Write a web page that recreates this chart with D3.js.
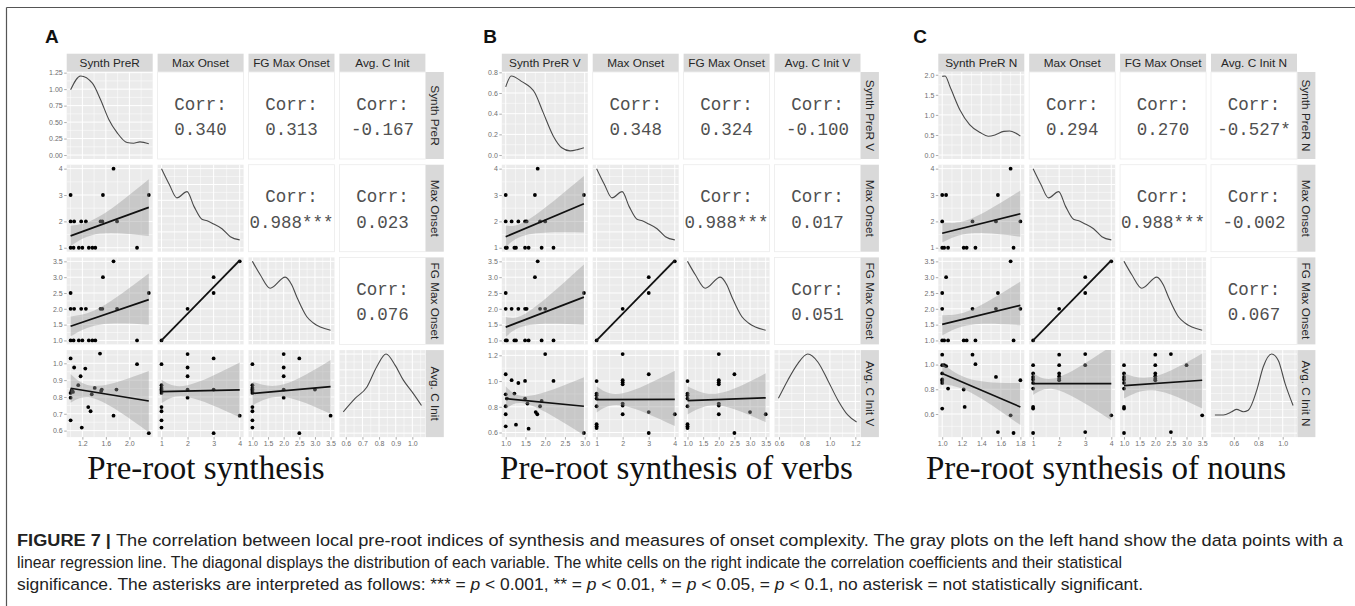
<!DOCTYPE html>
<html>
<head>
<meta charset="utf-8">
<script src="https://cdn.jsdelivr.net/npm/d3@7/dist/d3.min.js"></script>
<style>
  body { margin: 0; background: #fff; }
  svg { display: block; }
</style>
</head>
<body>
<svg id="contenedor"></svg>
<script>
// ---------- datos de los tres paneles ----------
const etiquetasPanel = ["A", "B", "C"];
const titulosPanel = ["Pre-root synthesis", "Pre-root synthesis of verbs", "Pre-root synthesis of nouns"];

const variablesA = ["Synth PreR", "Max Onset", "FG Max Onset", "Avg. C Init"];
const variablesB = ["Synth PreR V", "Max Onset", "FG Max Onset", "Avg. C Init V"];
const variablesC = ["Synth PreR N", "Max Onset", "FG Max Onset", "Avg. C Init N"];

// rango de los datos de cada variable
const rangosA = [[1.0, 2.33], [1, 4], [1, 3.5], [0.585, 1.055]];
const rangosB = [[1.0, 2.98], [1, 4], [1, 3.5], [0.595, 1.21]];
const rangosC = [[1.0, 1.8], [1, 4], [1, 3.5], [0.445, 1.085]];

// marcas de los ejes
const marcasA = [[1.2, 1.6, 2.0], [1, 2, 3, 4], [1, 1.5, 2, 2.5, 3, 3.5], [0.6, 0.7, 0.8, 0.9, 1.0]];
const marcasB = [[1, 1.5, 2, 2.5, 3], [1, 2, 3, 4], [1, 1.5, 2, 2.5, 3, 3.5], [0.6, 0.8, 1.0, 1.2]];
const marcasC = [[1, 1.2, 1.4, 1.6, 1.8], [1, 2, 3, 4], [1, 1.5, 2, 2.5, 3, 3.5], [0.6, 0.8, 1.0]];
const formatos = [".1f", "d", ".1f", ".1f"];
const marcasDensA = [0, 0.25, 0.5, 0.75, 1.0, 1.25];
const marcasDensB = [0, 0.2, 0.4, 0.6, 0.8];
const marcasDensC = [0, 0.5, 1.0, 1.5, 2.0];

// correlaciones: (1,2) (1,3) (1,4) (2,3) (2,4) (3,4)
const corrA = ["0.340", "0.313", "-0.167", "0.988***", "0.023", "0.076"];
const corrB = ["0.348", "0.324", "-0.100", "0.988***", "0.017", "0.051"];
const corrC = ["0.294", "0.270", "-0.527*", "0.988***", "-0.002", "0.067"];

// densidades [x, densidad]
const densSynthA = [[1.0, 0.99], [1.17, 1.2], [1.37, 1.09], [1.51, 0.84], [1.65, 0.54], [1.79, 0.34], [1.96, 0.19], [2.07, 0.18], [2.18, 0.2], [2.33, 0.17]];
const densSynthB = [[1.0, 0.66], [1.14, 0.765], [1.41, 0.71], [1.74, 0.6], [1.95, 0.41], [2.21, 0.18], [2.42, 0.07], [2.63, 0.04], [2.84, 0.055], [2.98, 0.07]];
const densSynthC = [[1.0, 1.96], [1.03, 1.97], [1.08, 1.7], [1.18, 1.13], [1.28, 0.76], [1.39, 0.56], [1.47, 0.47], [1.54, 0.5], [1.63, 0.59], [1.69, 0.6], [1.75, 0.55], [1.8, 0.47]];
const densMaxOnset = [[1, 1.0], [1.3, 0.8], [1.59, 0.63], [1.98, 0.71], [2.25, 0.52], [2.55, 0.36], [2.75, 0.34], [2.94, 0.31], [3.32, 0.24], [3.64, 0.14], [4, 0.1]];
const densFGMaxOnset = [[1, 1.0], [1.25, 0.83], [1.57, 0.66], [2.05, 0.8], [2.26, 0.7], [2.42, 0.55], [2.74, 0.3], [2.95, 0.22], [3.17, 0.17], [3.5, 0.13]];
const densAvgA = [[0.585, 0.27], [0.656, 0.44], [0.726, 0.58], [0.786, 0.84], [0.842, 1.0], [0.896, 0.86], [0.946, 0.67], [1.006, 0.5], [1.055, 0.35]];
const densAvgB = [[0.595, 0.44], [0.669, 0.67], [0.748, 0.88], [0.826, 1.0], [0.905, 0.9], [0.983, 0.67], [1.062, 0.42], [1.14, 0.23], [1.21, 0.14]];
const densAvgC = [[0.445, 0.23], [0.514, 0.23], [0.582, 0.27], [0.623, 0.3], [0.677, 0.27], [0.718, 0.29], [0.787, 0.54], [0.841, 0.84], [0.91, 1.0], [0.964, 0.92], [1.019, 0.63], [1.085, 0.35]];

// puntos [x, y] de cada celda
const puntosOnset = [[1, 1], [2, 2], [3, 2.5], [3, 3], [4, 3.5]];
const puntosA21 = [[1.0, 1], [1.05, 1], [1.14, 1], [1.2, 1], [1.31, 1], [1.37, 1], [1.42, 1], [2.13, 1], [1.0, 2], [1.06, 2], [1.18, 2], [1.26, 2], [1.51, 2], [1.54, 2], [1.79, 2], [1.0, 3], [1.55, 3], [2.33, 3], [1.73, 4]];
const puntosA31 = [[1.0, 1], [1.05, 1], [1.14, 1], [1.2, 1], [1.31, 1], [1.37, 1], [1.42, 1], [2.13, 1], [1.0, 2], [1.06, 2], [1.18, 2], [1.26, 2], [1.51, 2], [1.54, 2], [1.79, 2], [1.0, 2.5], [2.33, 2.5], [1.55, 3], [1.73, 3.5]];
const puntosA41 = [[1.0, 1.029], [1.06, 0.975], [1.25, 0.969], [1.5, 1.058], [1.17, 0.923], [1.13, 0.87], [1.0, 0.824], [1.02, 0.84], [1.04, 0.83], [1.0, 0.796], [1.36, 0.816], [1.41, 0.854], [1.53, 0.844], [1.52, 0.836], [1.78, 0.844], [1.3, 0.74], [1.34, 0.715], [1.0, 0.661], [1.19, 0.618], [1.73, 0.689], [2.13, 0.995], [2.33, 0.585]];
const puntosA42 = [[1, 0.995], [1, 0.87], [1, 0.854], [1, 0.844], [1, 0.836], [1, 0.824], [1, 0.74], [1, 0.715], [1, 0.661], [1, 0.618], [2, 1.055], [2, 0.975], [2, 0.923], [2, 0.844], [2, 0.796], [3, 1.029], [3, 0.844], [3, 0.585], [4, 0.689]];
const puntosA43 = [[1, 0.995], [1, 0.87], [1, 0.854], [1, 0.844], [1, 0.836], [1, 0.824], [1, 0.74], [1, 0.715], [1, 0.661], [1, 0.618], [2, 1.055], [2, 0.975], [2, 0.923], [2, 0.844], [2, 0.796], [2.5, 1.029], [2.5, 0.585], [3, 0.844], [3.5, 0.689]];
const puntosB21 = [[1.0, 1], [1.03, 1], [1.22, 1], [1.26, 1], [1.49, 1], [1.58, 1], [1.91, 1], [2.21, 1], [1.0, 2], [1.15, 2], [1.32, 2], [1.49, 2], [1.53, 2], [1.87, 2], [2.0, 2], [1.0, 3], [1.74, 3], [2.98, 3], [1.81, 4]];
const puntosB31 = [[1.0, 1], [1.03, 1], [1.22, 1], [1.26, 1], [1.49, 1], [1.58, 1], [1.91, 1], [2.21, 1], [1.0, 2], [1.15, 2], [1.32, 2], [1.49, 2], [1.53, 2], [1.87, 2], [2.0, 2], [1.0, 2.5], [2.98, 2.5], [1.74, 3], [1.81, 3.5]];
const puntosB41 = [[1.0, 1.053], [1.15, 1.007], [1.32, 0.985], [1.49, 1.001], [1.0, 0.897], [1.03, 0.864], [1.22, 0.903], [1.49, 0.864], [1.55, 0.825], [1.76, 0.759], [1.8, 0.742], [1.87, 0.804], [1.91, 0.845], [2.0, 1.21], [2.21, 1.001], [1.0, 0.804], [1.0, 0.742], [1.0, 0.648], [1.26, 0.661], [1.58, 0.63], [2.98, 0.596]];
const puntosB42 = [[1, 1.0], [1, 0.903], [1, 0.89], [1, 0.864], [1, 0.804], [1, 0.665], [1, 0.648], [1, 0.635], [2, 1.21], [2, 1.007], [2, 0.99], [2, 0.975], [2, 0.825], [2, 0.81], [2, 0.742], [3, 1.053], [3, 0.759], [3, 0.596], [4, 0.742]];
const puntosB43 = [[1, 1.0], [1, 0.903], [1, 0.89], [1, 0.864], [1, 0.804], [1, 0.665], [1, 0.648], [1, 0.635], [2, 1.21], [2, 1.007], [2, 0.99], [2, 0.975], [2, 0.825], [2, 0.81], [2, 0.742], [2.5, 1.053], [2.5, 0.596], [3, 0.759], [3.5, 0.742]];
const puntosC21 = [[1.0, 1], [1.02, 1], [1.06, 1], [1.22, 1], [1.25, 1], [1.34, 1], [1.73, 1], [1.0, 2], [1.31, 2], [1.55, 2], [1.8, 2], [1.0, 3], [1.04, 3], [1.57, 3], [1.7, 4]];
const puntosC31 = [[1.0, 1], [1.02, 1], [1.06, 1], [1.22, 1], [1.25, 1], [1.34, 1], [1.73, 1], [1.0, 2], [1.31, 2], [1.55, 2], [1.8, 2], [1.0, 2.5], [1.57, 2.5], [1.04, 3], [1.7, 3.5]];
const puntosC41 = [[1.0, 1.08], [1.0, 0.995], [1.02, 0.995], [1.04, 0.987], [1.0, 0.928], [1.0, 0.879], [1.0, 0.868], [1.0, 0.851], [1.06, 0.806], [1.22, 0.798], [1.31, 1.08], [1.34, 1.003], [1.23, 0.657], [1.0, 0.644], [1.55, 0.9], [1.57, 0.454], [1.7, 0.589], [1.73, 0.446], [1.8, 0.873]];
const puntosC42 = [[1, 0.995], [1, 0.928], [1, 0.9], [1, 0.879], [1, 0.851], [1, 0.806], [1, 0.657], [1, 0.644], [1, 0.446], [2, 1.08], [2, 0.995], [2, 0.928], [2, 0.905], [2, 0.885], [2, 0.873], [3, 1.085], [3, 0.995], [3, 0.454], [4, 0.589]];
const puntosC43 = [[1, 0.995], [1, 0.928], [1, 0.9], [1, 0.879], [1, 0.851], [1, 0.806], [1, 0.657], [1, 0.644], [1, 0.446], [2, 1.08], [2, 0.995], [2, 0.928], [2, 0.905], [2, 0.885], [2, 0.873], [2.5, 1.085], [2.5, 0.454], [3, 0.995], [3.5, 0.589]];

// recta de regresion: [x, ajuste, limite inferior, limite superior]
const ajusteOnset = [[1, 1.0, 0.95, 1.05], [2.5, 2.27, 2.24, 2.3], [4, 3.53, 3.47, 3.59]];
const ajusteA21 = [[1.0, 1.45, 1.07, 1.83], [1.5, 1.86, 1.54, 2.2], [2.33, 2.53, 1.45, 3.6]];
const ajusteA31 = [[1.0, 1.45, 1.13, 1.76], [1.5, 1.77, 1.5, 2.04], [2.33, 2.29, 1.5, 3.12]];
const ajusteA41 = [[1.0, 0.852, 0.765, 0.937], [1.45, 0.826, 0.785, 0.866], [2.33, 0.776, 0.59, 0.955]];
const ajusteA42 = [[1, 0.832, 0.762, 0.902], [2, 0.835, 0.8, 0.87], [4, 0.842, 0.679, 1.005]];
const ajusteA43 = [[1, 0.821, 0.75, 0.89], [2, 0.837, 0.8, 0.875], [3.5, 0.861, 0.7, 1.02]];
const ajusteB21 = [[1.0, 1.42, 1.02, 1.84], [1.6, 1.8, 1.51, 2.09], [2.98, 2.67, 1.58, 3.72]];
const ajusteB31 = [[1.0, 1.42, 1.11, 1.74], [1.6, 1.71, 1.49, 1.93], [2.98, 2.37, 1.5, 3.4]];
const ajusteB41 = [[1.0, 0.864, 0.78, 0.96], [1.6, 0.849, 0.815, 0.885], [2.98, 0.804, 0.578, 1.03]];
const ajusteB42 = [[1, 0.856, 0.755, 0.96], [2, 0.856, 0.81, 0.905], [4, 0.858, 0.65, 1.08]];
const ajusteB43 = [[1, 0.848, 0.74, 0.96], [2, 0.857, 0.81, 0.905], [3.5, 0.87, 0.68, 1.06]];
const ajusteC21 = [[1.0, 1.55, 1.2, 1.95], [1.3, 1.83, 1.55, 2.11], [1.8, 2.29, 1.42, 3.17]];
const ajusteC31 = [[1.0, 1.51, 1.16, 1.8], [1.3, 1.735, 1.5, 1.97], [1.8, 2.11, 1.48, 2.86]];
const ajusteC41 = [[1.0, 0.928, 0.84, 1.01], [1.3, 0.826, 0.77, 0.88], [1.8, 0.657, 0.51, 0.85]];
const ajusteC42 = [[1, 0.846, 0.753, 0.93], [2, 0.846, 0.79, 0.9], [4, 0.846, 0.549, 1.149]];
const ajusteC43 = [[1, 0.83, 0.725, 0.928], [2, 0.848, 0.79, 0.905], [3.5, 0.873, 0.644, 1.09]];

// texto del pie de figura
const pieLinea1 = "The correlation between local pre-root indices of synthesis and measures of onset complexity. The gray plots on the left hand show the data points with a";
const pieLinea2 = "linear regression line. The diagonal displays the distribution of each variable. The white cells on the right indicate the correlation coefficients and their statistical";
const pieLinea3 = ["significance. The asterisks are interpreted as follows: *** = ", " < 0.001, ** = ", " < 0.01, * = ", " < 0.05, = ", " < 0.1, no asterisk = not statistically significant."];

const sans = "'Liberation Sans', Arial, Helvetica, sans-serif";
const serif = "'Liberation Serif', 'Times New Roman', serif";
const mono = "'Liberation Mono', 'Courier New', monospace";

// armar la lista de paneles
let paneles = [
  { variables: variablesA, rangos: rangosA, marcas: marcasA, marcasDens: marcasDensA, formatoDens: ".2f", corr: corrA,
    densidades: [densSynthA, densMaxOnset, densFGMaxOnset, densAvgA],
    puntos: { "1,0": puntosA21, "2,0": puntosA31, "2,1": puntosOnset, "3,0": puntosA41, "3,1": puntosA42, "3,2": puntosA43 },
    ajustes: { "1,0": ajusteA21, "2,0": ajusteA31, "2,1": ajusteOnset, "3,0": ajusteA41, "3,1": ajusteA42, "3,2": ajusteA43 } },
  { variables: variablesB, rangos: rangosB, marcas: marcasB, marcasDens: marcasDensB, formatoDens: ".1f", corr: corrB,
    densidades: [densSynthB, densMaxOnset, densFGMaxOnset, densAvgB],
    puntos: { "1,0": puntosB21, "2,0": puntosB31, "2,1": puntosOnset, "3,0": puntosB41, "3,1": puntosB42, "3,2": puntosB43 },
    ajustes: { "1,0": ajusteB21, "2,0": ajusteB31, "2,1": ajusteOnset, "3,0": ajusteB41, "3,1": ajusteB42, "3,2": ajusteB43 } },
  { variables: variablesC, rangos: rangosC, marcas: marcasC, marcasDens: marcasDensC, formatoDens: ".1f", corr: corrC,
    densidades: [densSynthC, densMaxOnset, densFGMaxOnset, densAvgC],
    puntos: { "1,0": puntosC21, "2,0": puntosC31, "2,1": puntosOnset, "3,0": puntosC41, "3,1": puntosC42, "3,2": puntosC43 },
    ajustes: { "1,0": ajusteC21, "2,0": ajusteC31, "2,1": ajusteOnset, "3,0": ajusteC41, "3,1": ajusteC42, "3,2": ajusteC43 } }
];

// configuracion del area de dibujo
function getConfig() {
  let width = 1355;
  let height = 606;
  let celda = { ancho: 86, alto: 87, pasoX: 90.9, pasoY: 92.7, top: 72, tira: 18 };
  let inicioX = [66.7, 501.8, 938.3]; // borde izquierdo de la primera columna
  let tituloX = [206, 676.5, 1106];
  let etiquetaX = [45, 483.3, 913.3];
  let container = d3.select("#contenedor").attr("width", width).attr("height", height);
  return { width, height, celda, inicioX, tituloX, etiquetaX, container };
} // fin getConfig

// expansion del 5% como ggplot
function expandir(r) {
  let d = r[1] - r[0];
  return [r[0] - 0.05 * d, r[1] + 0.05 * d];
}

// lineas secundarias de la rejilla
function menores(marcas, dominio) {
  let paso = marcas[1] - marcas[0];
  let res = [];
  for (let v = marcas[0] - paso / 2; v <= dominio[1] + 1e-9; v += paso) {
    if (v >= dominio[0]) res.push(v);
  }
  return res;
}

// fondo gris con rejilla blanca
function dibujarRejilla(g, sx, sy, marcasX, marcasY) {
  let [x0, x1] = sx.range();
  let [y1, y0] = sy.range();
  g.append("rect").attr("x", x0).attr("y", y0).attr("width", x1 - x0).attr("height", y1 - y0).attr("fill", "#ebebeb");
  let dentroX = (v) => v >= sx.domain()[0] && v <= sx.domain()[1];
  let dentroY = (v) => v >= sy.domain()[0] && v <= sy.domain()[1];
  let lineasV = [
    ...menores(marcasX, sx.domain()).map((v) => ({ v, w: 0.5 })),
    ...marcasX.filter(dentroX).map((v) => ({ v, w: 1 }))
  ];
  let lineasH = [
    ...menores(marcasY, sy.domain()).map((v) => ({ v, w: 0.5 })),
    ...marcasY.filter(dentroY).map((v) => ({ v, w: 1 }))
  ];
  g.selectAll(null).data(lineasV).enter().append("line")
    .attr("x1", (d) => sx(d.v)).attr("x2", (d) => sx(d.v))
    .attr("y1", y0).attr("y2", y1)
    .attr("stroke", "#fff").attr("stroke-width", (d) => d.w);
  g.selectAll(null).data(lineasH).enter().append("line")
    .attr("y1", (d) => sy(d.v)).attr("y2", (d) => sy(d.v))
    .attr("x1", x0).attr("x2", x1)
    .attr("stroke", "#fff").attr("stroke-width", (d) => d.w);
} // fin dibujarRejilla

function estiloEje(eje) {
  eje.select(".domain").remove();
  eje.attr("font-size", 7).attr("font-family", sans);
  eje.selectAll("text").attr("fill", "#6e6e6e");
  eje.selectAll("line").attr("stroke", "#8a8a8a").attr("stroke-width", 0.7);
}

// dibujar un panel completo (matriz 4x4)
function dibujarPanel(p, k, config) {
  let { container, celda, inicioX, tituloX, etiquetaX } = config;
  let x0 = inicioX[k];
  let g = container.append("g");
  let defs = container.select("defs");

  let escX = p.rangos.map((r, j) => d3.scaleLinear().domain(expandir(r))
    .range([x0 + j * celda.pasoX, x0 + j * celda.pasoX + celda.ancho]));
  let escY = p.rangos.map((r, i) => {
    let top = celda.top + i * celda.pasoY;
    return d3.scaleLinear().domain(expandir(r)).range([top + celda.alto, top]);
  });
  let escDens = p.densidades.map((d, i) => {
    let top = celda.top + i * celda.pasoY;
    let maxD = d3.max(d, (v) => v[1]);
    return d3.scaleLinear().domain(expandir([0, maxD])).range([top + celda.alto, top]);
  });

  let contador = 0;
  for (let i = 0; i < 4; i++) {
    for (let j = 0; j < 4; j++) {
      let sx = escX[j];
      let cx0 = sx.range()[0], cx1 = sx.range()[1];
      let cy0 = celda.top + i * celda.pasoY, cy1 = cy0 + celda.alto;
      let celdaG = g.append("g");
      let idClip = "clip-" + k + "-" + i + "-" + j;
      defs.append("clipPath").attr("id", idClip).append("rect")
        .attr("x", cx0).attr("y", cy0).attr("width", cx1 - cx0).attr("height", cy1 - cy0);

      if (i === j) {
        // densidad en la diagonal
        let sy = escDens[i];
        let marcasY = i === 0 ? p.marcasDens : sy.ticks(4);
        dibujarRejilla(celdaG, sx, sy, p.marcas[j], marcasY);
        let linea = d3.line().x((d) => sx(d[0])).y((d) => sy(d[1])).curve(d3.curveMonotoneX);
        celdaG.append("path").datum(p.densidades[i]).attr("d", linea)
          .attr("fill", "none").attr("stroke", "#4a4a4a").attr("stroke-width", 1.1)
          .attr("clip-path", "url(#" + idClip + ")");
      } else if (i > j) {
        // dispersion con recta de regresion
        let sy = escY[i];
        let clave = i + "," + j;
        dibujarRejilla(celdaG, sx, sy, p.marcas[j], p.marcas[i]);
        let capa = celdaG.append("g").attr("clip-path", "url(#" + idClip + ")");
        capa.selectAll("circle").data(p.puntos[clave]).enter().append("circle")
          .attr("cx", (d) => sx(d[0])).attr("cy", (d) => sy(d[1])).attr("r", 1.9).attr("fill", "#000");
        let aj = p.ajustes[clave];
        let banda = d3.area().x((d) => sx(d[0])).y0((d) => sy(d[2])).y1((d) => sy(d[3])).curve(d3.curveNatural);
        capa.append("path").datum(aj).attr("d", banda).attr("fill", "#999").attr("fill-opacity", 0.42);
        let extremos = [aj[0], aj[aj.length - 1]];
        capa.append("line")
          .attr("x1", sx(extremos[0][0])).attr("y1", sy(extremos[0][1]))
          .attr("x2", sx(extremos[1][0])).attr("y2", sy(extremos[1][1]))
          .attr("stroke", "#111").attr("stroke-width", 1.7);
      } else {
        // correlacion en la parte superior
        celdaG.append("rect").attr("x", cx0).attr("y", cy0).attr("width", cx1 - cx0).attr("height", cy1 - cy0)
          .attr("fill", "#fff").attr("stroke", "#ececec").attr("stroke-width", 0.8);
        let cx = (cx0 + cx1) / 2, cy = (cy0 + cy1) / 2;
        let texto = celdaG.append("g").attr("font-family", mono).attr("font-size", 17.5)
          .attr("fill", "#505050").attr("text-anchor", "middle");
        texto.append("text").attr("x", cx).attr("y", cy - 6).text("Corr:");
        texto.append("text").attr("x", cx).attr("y", cy + 19.3).text(p.corr[contador]);
        contador++;
      }
    }
  }

  // tiras superiores con nombres
  p.variables.forEach((nombre, j) => {
    let [a, b] = escX[j].range();
    g.append("rect").attr("x", a).attr("y", celda.top - celda.tira - 0.3).attr("width", b - a).attr("height", celda.tira)
      .attr("fill", "#d9d9d9");
    g.append("text").attr("x", (a + b) / 2).attr("y", celda.top - celda.tira / 2 - 0.3)
      .attr("dy", "0.35em").attr("text-anchor", "middle").attr("font-family", sans).attr("font-size", 11.8)
      .attr("fill", "#262626").text(nombre);
  });

  // tiras de la derecha (texto girado)
  let derecha = escX[3].range()[1] + 0.4;
  p.variables.forEach((nombre, i) => {
    let cy0 = celda.top + i * celda.pasoY;
    g.append("rect").attr("x", derecha).attr("y", cy0).attr("width", celda.tira).attr("height", celda.alto)
      .attr("fill", "#d9d9d9");
    g.append("text").attr("transform", `translate(${derecha + celda.tira / 2}, ${cy0 + celda.alto / 2}) rotate(90)`)
      .attr("dy", "0.35em").attr("text-anchor", "middle").attr("font-family", sans).attr("font-size", 11.8)
      .attr("fill", "#262626").text(nombre);
  });

  // ejes izquierdos
  for (let i = 0; i < 4; i++) {
    let escala = i === 0 ? escDens[0] : escY[i];
    let marcas = i === 0 ? p.marcasDens : p.marcas[i];
    let formato = i === 0 ? p.formatoDens : formatos[i];
    let eje = d3.axisLeft(escala).tickValues(marcas).tickFormat(d3.format(formato)).tickSize(2.5).tickPadding(1.5);
    g.append("g").attr("transform", `translate(${x0},0)`).call(eje).call(estiloEje);
  }
  // ejes inferiores
  let base = celda.top + 3 * celda.pasoY + celda.alto;
  for (let j = 0; j < 4; j++) {
    let eje = d3.axisBottom(escX[j]).tickValues(p.marcas[j]).tickFormat(d3.format(formatos[j])).tickSize(2.5).tickPadding(1.5);
    g.append("g").attr("transform", `translate(0,${base})`).call(eje).call(estiloEje);
  }

  // letra del panel y titulo
  g.append("text").attr("x", etiquetaX[k]).attr("y", 43.3).attr("font-family", sans).attr("font-weight", "bold")
    .attr("font-size", 19).attr("fill", "#111").text(etiquetasPanel[k]);
  g.append("text").attr("x", tituloX[k]).attr("y", 479).attr("text-anchor", "middle").attr("font-family", serif)
    .attr("font-size", 33).attr("fill", "#111").text(titulosPanel[k]);
} // fin dibujarPanel

// marco y pie de figura
function dibujarPie(config) {
  let { container, width, height } = config;
  container.append("line").attr("x1", 6.5).attr("x2", width).attr("y1", 7.5).attr("y2", 7.5)
    .attr("stroke", "#555").attr("stroke-width", 1.2);
  container.append("line").attr("x1", 6.5).attr("x2", 6.5).attr("y1", 7.5).attr("y2", height)
    .attr("stroke", "#555").attr("stroke-width", 1.2);

  // ancho de cada linea tal como se ve en la figura
  let anchos = [1326, 1105, 1126];
  let pie = container.append("g").attr("font-family", sans).attr("font-size", 16.8).attr("fill", "#222");
  let l1 = pie.append("text").attr("x", 17).attr("y", 546)
    .attr("textLength", anchos[0]).attr("lengthAdjust", "spacingAndGlyphs");
  l1.append("tspan").attr("font-weight", "bold").text("FIGURE 7 | ");
  l1.append("tspan").text(pieLinea1);
  pie.append("text").attr("x", 17).attr("y", 568)
    .attr("textLength", anchos[1]).attr("lengthAdjust", "spacingAndGlyphs").text(pieLinea2);
  let l3 = pie.append("text").attr("x", 17).attr("y", 590)
    .attr("textLength", anchos[2]).attr("lengthAdjust", "spacingAndGlyphs");
  pieLinea3.forEach((parte, n) => {
    if (n > 0) l3.append("tspan").attr("font-style", "italic").text("p");
    l3.append("tspan").text(parte);
  });
} // fin dibujarPie

function dibujarFigura() {
  let config = getConfig();
  config.container.append("defs");
  paneles.forEach((p, k) => dibujarPanel(p, k, config));
  dibujarPie(config);
}

dibujarFigura();
</script>
</body>
</html>
